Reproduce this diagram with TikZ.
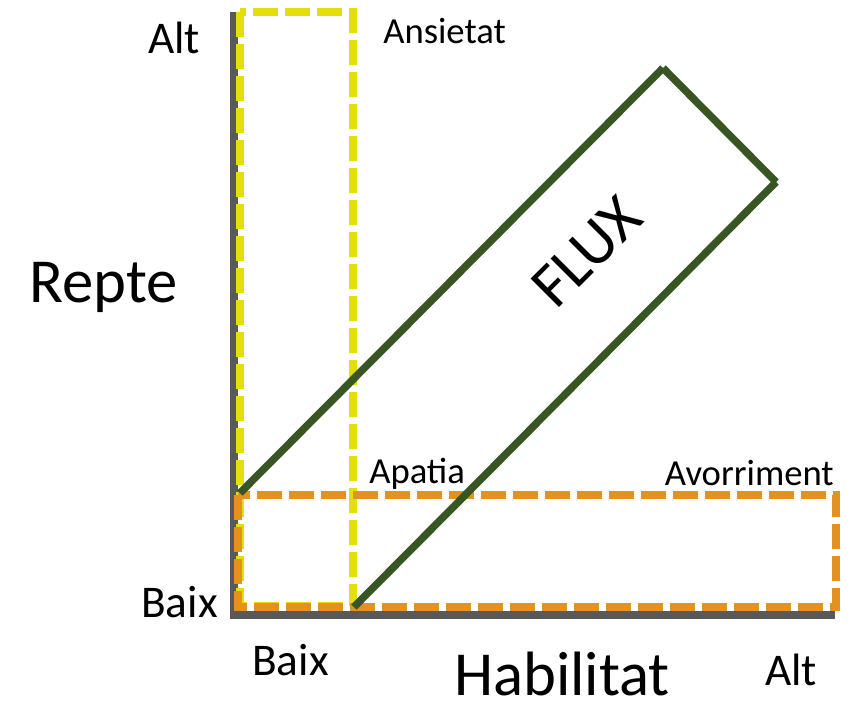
\documentclass[tikz,border=0pt]{standalone}
\usepackage{fontspec}
\setmainfont{Carlito}
\definecolor{axisgray}{HTML}{595959}
\definecolor{zoneyellow}{HTML}{E5DE0F}
\definecolor{zoneorange}{HTML}{E39222}
\definecolor{flowgreen}{HTML}{375623}
\tikzset{
  axisline/.style={draw=axisgray, line width=5.4pt},
  zonebox/.style={line width=5.8pt, dash pattern=on 18.5pt off 5.5pt},
  flowline/.style={draw=flowgreen, line width=5.6pt, line cap=butt},
  biglabel/.style={inner sep=0pt, font=\fontsize{47}{56}\selectfont},
  midlabel/.style={inner sep=0pt, font=\fontsize{34}{40}\selectfont},
  smalllabel/.style={inner sep=0pt, font=\fontsize{27.5}{33}\selectfont},
}
\begin{document}
\begin{tikzpicture}[x=0.75pt,y=-0.75pt]
\useasboundingbox (0,0) rectangle (859,701);

% axes
\coordinate (ytop) at (234,12);
\coordinate (origin) at (234,615);
\coordinate (xend) at (835,615);
\draw[axisline] (ytop) -- (origin) -- (xend);

% anxiety zone (high challenge, low skill)
\coordinate (ya) at (240,12);
\coordinate (yb) at (353,606);
\draw[zonebox, draw=zoneyellow] (ya) rectangle (yb);

% low challenge zone
\coordinate (oa) at (238,495);
\coordinate (ob) at (836,607);
\draw[zonebox, draw=zoneorange] (oa) rectangle (ob);

% flow channel
\coordinate (fa) at (240,493);
\coordinate (fb) at (663,68);
\coordinate (fc) at (776,182);
\coordinate (fd) at (354,607);
\draw[flowline] (fa) -- (fb);
\draw[flowline] (fb) -- (fc);
\draw[flowline] (fc) -- (fd);
\node[biglabel, rotate=45] (flux) at (587,252) {FLUX};

% labels
\node[midlabel, anchor=base west] (altY) at (148,53) {Alt};
\node[midlabel, anchor=base west] (baixY) at (141,617) {Baix};
\node[biglabel, anchor=base west] (repte) at (29,302) {Repte};
\node[smalllabel, anchor=base west] (ansietat) at (383,43) {Ansietat};
\node[smalllabel, anchor=base west] (apatia) at (369,483) {Apatia};
\node[smalllabel, anchor=base east] (avorriment) at (834,485) {Avorriment};
\node[midlabel, anchor=base west] (baixX) at (252,675) {Baix};
\node[biglabel, anchor=base west] (habilitat) at (454,695) {Habilitat};
\node[midlabel, anchor=base west] (altX) at (765,685) {Alt};
\end{tikzpicture}
\end{document}
